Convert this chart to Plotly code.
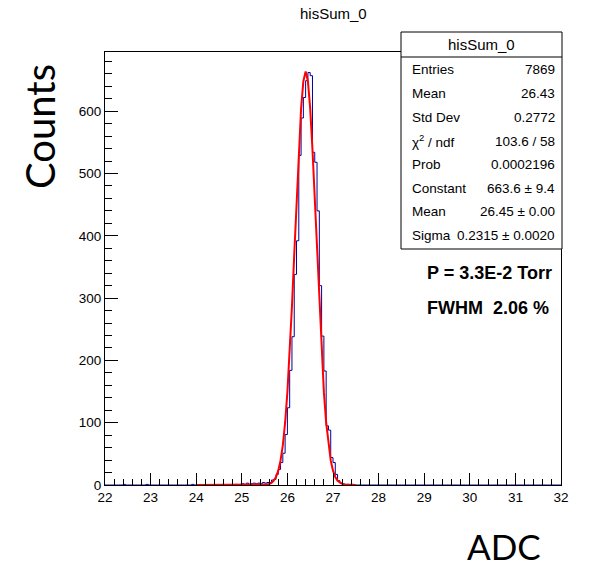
import plotly.graph_objects as go

# ---------------- data ----------------
bin_width = 0.05
x_min, x_max = 22.0, 32.0

# bin lower edges and counts of the populated region
peak_start = 25.00
peak_counts = [2, 1, 3, 1, 2, 3, 2, 3, 2, 4,      # 25.00 - 25.45
               3, 4, 4, 8, 9, 17, 25, 36, 51, 81,  # 25.50 - 25.95
               124, 184, 238, 338, 392, 529, 589, 622, 649, 662,  # 26.00 - 26.45
               657, 534, 518, 440, 320, 239, 183, 95, 88, 44,     # 26.50 - 26.95
               36, 17, 7, 3, 2, 1, 1, 0, 1, 0]     # 27.00 - 27.45
# isolated low bins
sparse_edges = [22.40, 22.90, 23.90, 24.85]
sparse_counts = [1, 1, 1, 1]

# fitted gaussian curve, as seen on the picture
fit_x = [24.00, 25.40, 25.45, 25.50, 25.55, 25.60, 25.65, 25.70, 25.75, 25.80, 25.85,
         25.90, 25.95, 26.00, 26.05, 26.10, 26.15, 26.20, 26.25, 26.30, 26.35,
         26.40, 26.45, 26.50, 26.55, 26.60, 26.65, 26.70, 26.75, 26.80, 26.85,
         26.90, 26.95, 27.00, 27.05, 27.10, 27.15, 27.20, 27.25, 27.30, 27.35,
         27.40, 27.45, 27.50]
fit_y = [0.0, 0.2, 0.3, 0.5, 0.8, 1.7, 3.5, 6.9, 12.9, 23, 39.5,
         64, 100, 149, 212, 287, 370, 457, 538, 604, 648,
         663.6, 648, 604, 538, 457, 370, 287, 212, 149, 100,
         64, 39.5, 23, 12.9, 6.9, 3.5, 1.7, 0.8, 0.5, 0.3,
         0.2, 0.1, 0.0]

stats_title = "hisSum_0"
stats_labels = ["Entries", "Mean", "Std Dev", "χ<sup>2</sup> / ndf", "Prob",
                "Constant", "Mean", "Sigma"]
stats_values = ["7869", "26.43", "0.2772", "103.6 / 58", "0.0002196",
                "663.6 ± 9.4", "26.45 ± 0.00", "0.2315 ± 0.0020"]
note_lines = ["P = 3.3E-2 Torr", "FWHM  2.06 %"]
x_ticks = list(range(22, 33))
y_ticks = [0, 100, 200, 300, 400, 500, 600]

# ---------------- build full histogram ----------------
n_bins = int(round((x_max - x_min) / bin_width))
counts = [0] * n_bins
for i, c in enumerate(peak_counts):
    idx = int(round((peak_start - x_min) / bin_width)) + i
    counts[idx] = c
for e, c in zip(sparse_edges, sparse_counts):
    counts[int(round((e - x_min) / bin_width))] = c
edges = [x_min + i * bin_width for i in range(n_bins + 1)]
hx = edges
hy = counts + [counts[-1]]

# ---------------- geometry (pixels) ----------------
W, H = 608, 566
L, R, T, B = 105, 561, 52, 485
pw, ph = R - L, B - T

def px(x):
    return (x - L) / pw

def py(y):
    return (B - y) / ph

FONT_R = "Liberation Sans, Arial, sans-serif"
FONT_T = "Lato, Open Sans, sans-serif"

fig = go.Figure()
fig.add_trace(go.Scatter(x=hx, y=hy, mode="lines", line=dict(color="#000099", width=1, shape="hv"),
                         hoverinfo="skip", showlegend=False))
fig.add_trace(go.Scatter(x=fit_x, y=fit_y, mode="lines", line=dict(color="#ff0000", width=2),
                         hoverinfo="skip", showlegend=False))

axis_common = dict(showline=True, linecolor="black", linewidth=1, mirror=True,
                   ticks="inside", tickcolor="black", tickwidth=1, showgrid=False,
                   zeroline=False, tickfont=dict(family=FONT_R, size=13.5, color="black"))
fig.update_layout(
    width=W, height=H,
    margin=dict(l=L, r=W - R, t=T, b=H - B, pad=0),
    paper_bgcolor="white", plot_bgcolor="white",
    xaxis=dict(range=[x_min, x_max], tickvals=x_ticks, ticklen=12,
               minor=dict(dtick=0.2, ticklen=6, ticks="inside", tickcolor="black", showgrid=False),
               **axis_common),
    yaxis=dict(range=[0, 695], tickvals=y_ticks, ticklen=13,
               minor=dict(dtick=20, ticklen=7, ticks="inside", tickcolor="black", showgrid=False),
               **axis_common),
)

ann = []
ann.append(dict(x=px(333), y=py(14), xref="paper", yref="paper", text="hisSum_0", showarrow=False,
                font=dict(family=FONT_R, size=15, color="black"), xanchor="center", yanchor="middle"))
ann.append(dict(x=px(40), y=py(127), xref="paper", yref="paper", text="Counts", showarrow=False,
                textangle=-90, font=dict(family=FONT_T, size=40, color="black"),
                xanchor="center", yanchor="middle"))
ann.append(dict(x=px(504), y=py(546), xref="paper", yref="paper", text="ADC", showarrow=False,
                font=dict(family=FONT_T, size=35, color="black"),
                xanchor="center", yanchor="middle"))

# stats box
bx0, bx1, by0, by1, sep = 401, 562, 32, 249, 57
shapes = [
    dict(type="rect", xref="paper", yref="paper", x0=px(bx0), x1=px(bx1), y0=py(by1), y1=py(by0),
         line=dict(color="black", width=1), fillcolor="white", layer="above"),
    dict(type="line", xref="paper", yref="paper", x0=px(bx0), x1=px(bx1), y0=py(sep), y1=py(sep),
         line=dict(color="black", width=1), layer="above"),
]
ann.append(dict(x=px((bx0 + bx1) / 2), y=py(45), xref="paper", yref="paper", text=stats_title,
                showarrow=False, font=dict(family=FONT_R, size=15, color="black"),
                xanchor="center", yanchor="middle"))
row_y = [70, 94, 117.5, 141, 164.5, 188.5, 211.5, 235]
for lab, val, yy in zip(stats_labels, stats_values, row_y):
    ann.append(dict(x=px(410), y=py(yy), xref="paper", yref="paper", text=lab, showarrow=False,
                    font=dict(family=FONT_R, size=13.5, color="black"), xanchor="left", yanchor="middle"))
    ann.append(dict(x=px(557), y=py(yy), xref="paper", yref="paper", text=val, showarrow=False,
                    font=dict(family=FONT_R, size=13.5, color="black"), xanchor="right", yanchor="middle"))

for txt, yy in zip(note_lines, [273, 308]):
    ann.append(dict(x=px(425), y=py(yy), xref="paper", yref="paper", text="<b>" + txt + "</b>",
                    showarrow=False, font=dict(family=FONT_R, size=18, color="black"),
                    xanchor="left", yanchor="middle"))

fig.update_layout(annotations=ann, shapes=shapes)
fig.write_html("out.html")
